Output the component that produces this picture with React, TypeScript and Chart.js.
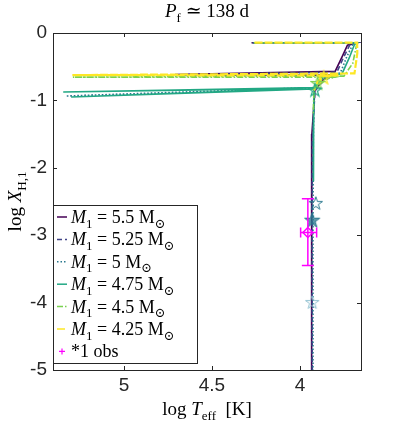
import React, { useEffect, useRef } from "react";
import { Chart, registerables } from "chart.js";
Chart.register(...registerables);

// ---- data ----
const masses = ["5.5", "5.25", "5", "4.75", "4.5", "4.25"];
const colors = ["#440154", "#414487", "#2A788E", "#22A884", "#7AD151", "#FDE725"];
const dashes: number[][] = [[], [5, 3], [1.5, 2], [], [6, 2, 1.5, 2], [8, 2]];

const T55 = [4.275, 3.675, 3.73, 3.76, 3.8, 4.71, 3.82, 3.87, 3.915, 3.932, 3.934, 3.933];
const X55 = [-0.144, -0.144, -0.18, -0.35, -0.57, -0.615, -0.62, -0.7, -0.85, -1.5, -3.0, -5.0];
const T525 = [4.27, 3.675, 3.715, 3.75, 3.79, 4.66, 3.81, 3.87, 3.915, 3.929, 3.931, 3.93];
const X525 = [-0.144, -0.144, -0.17, -0.35, -0.58, -0.62, -0.625, -0.72, -0.86, -1.6, -3.0, -5.0];
const T5 = [4.265, 3.675, 3.7, 3.735, 3.77, 3.86, 3.92, 5.33, 3.92, 3.924, 3.926, 3.926];
const X5 = [-0.144, -0.144, -0.17, -0.36, -0.59, -0.66, -0.81, -0.935, -0.82, -1.6, -3.0, -5.0];
const T475 = [4.262, 3.675, 3.69, 3.72, 3.76, 3.87, 3.915, 5.345, 3.915, 5.3, 3.92, 3.922, 3.923];
const X475 = [-0.144, -0.144, -0.17, -0.37, -0.6, -0.66, -0.81, -0.875, -0.82, -0.95, -0.83, -1.3, -2.2];
const T45 = [4.26, 3.675, 3.68, 3.7, 3.75, 5.29, 3.8, 3.88, 3.92, 3.925];
const X45 = [-0.144, -0.144, -0.2, -0.45, -0.64, -0.655, -0.655, -0.7, -0.85, -1.2];
const T425 = [4.258, 3.675, 3.674, 3.69, 5.293, 3.78, 3.865, 3.9, 3.92];
const X425 = [-0.144, -0.144, -0.3, -0.6, -0.625, -0.63, -0.64, -0.72, -0.85];
const tracksT = [T55, T525, T5, T475, T45, T425];
const tracksX = [X55, X525, X5, X475, X45, X425];

// star markers: [logT, logX]
const starsOpenT = [3.91, 3.93];
const starsOpenX = [-2.52, -3.99];
const starsOpenColor = ["#2A788E", "#8FC0D0"];
const starFilledT = [3.93];
const starFilledX = [-2.77];
const topStarsT = [3.865, 3.9, 3.915];
const topStarsX = [-0.66, -0.74, -0.84];
const topStarsColor = ["#FDE725", "#7AD151", "#22A884"];

// observation
const obsT = 3.955, obsX = -2.96;
const obsTlo = 3.905, obsThi = 3.996;
const obsXlo = -3.45, obsXhi = -2.46;

const xTicks = [5, 4.5, 4];
const yTicks = [0, -1, -2, -3, -4, -5];

// ---- helpers ----
function starCanvas(size: number, fill: string | null, stroke: string, lw = 1) {
  const c = document.createElement("canvas");
  c.width = size; c.height = size;
  const ctx = c.getContext("2d")!;
  const cx = size / 2, cy = size / 2 + size * 0.05;
  const R = size / 2 - lw, r = R * 0.382;
  ctx.beginPath();
  for (let i = 0; i < 10; i++) {
    const rad = i % 2 === 0 ? R : r;
    const a = -Math.PI / 2 + (i * Math.PI) / 5;
    const px = cx + rad * Math.cos(a), py = cy + rad * Math.sin(a);
    if (i === 0) ctx.moveTo(px, py); else ctx.lineTo(px, py);
  }
  ctx.closePath();
  if (fill) { ctx.fillStyle = fill; ctx.fill(); }
  ctx.strokeStyle = stroke; ctx.lineWidth = lw; ctx.stroke();
  return c;
}

type Seg = { t: string; it?: boolean; sub?: boolean };
const SERIF = '"Liberation Serif", "DejaVu Serif", serif';
function drawRich(ctx: CanvasRenderingContext2D, segs: Seg[], x: number, y: number, size: number, align: "left" | "center") {
  const fontFor = (s: Seg) => `${s.it ? "italic " : ""}${s.sub ? Math.round(size * 0.7) : size}px ${SERIF}`;
  let w = 0;
  for (const s of segs) { ctx.font = fontFor(s); w += ctx.measureText(s.t).width; }
  let cx = align === "center" ? x - w / 2 : x;
  ctx.textBaseline = "alphabetic";
  ctx.textAlign = "left";
  for (const s of segs) {
    ctx.font = fontFor(s);
    ctx.fillText(s.t, cx, y + (s.sub ? size * 0.25 : 0));
    cx += ctx.measureText(s.t).width;
  }
}

const AX = "#262626";

const decor = {
  id: "decor",
  afterDatasetsDraw(chart: any) {
    const ctx: CanvasRenderingContext2D = chart.ctx;
    const xs = chart.scales.x, ys = chart.scales.y;
    ctx.save();
    ctx.strokeStyle = "#FF00FF";
    ctx.lineWidth = 1.5;
    const px = xs.getPixelForValue(obsT), py = ys.getPixelForValue(obsX);
    const yl = ys.getPixelForValue(obsXlo), yh = ys.getPixelForValue(obsXhi);
    const xl = xs.getPixelForValue(obsThi), xh = xs.getPixelForValue(obsTlo);
    ctx.beginPath();
    ctx.moveTo(px, yl); ctx.lineTo(px, yh);
    ctx.moveTo(px - 6, yl); ctx.lineTo(px + 6, yl);
    ctx.moveTo(px - 6, yh); ctx.lineTo(px + 6, yh);
    ctx.moveTo(xl, py); ctx.lineTo(xh, py);
    ctx.moveTo(xl, py - 5); ctx.lineTo(xl, py + 5);
    ctx.moveTo(xh, py - 5); ctx.lineTo(xh, py + 5);
    ctx.stroke();
    ctx.restore();
  },
  afterDraw(chart: any) {
    const ctx: CanvasRenderingContext2D = chart.ctx;
    const a = chart.chartArea;
    const xs = chart.scales.x, ys = chart.scales.y;
    ctx.save();
    ctx.strokeStyle = AX;
    ctx.lineWidth = 1;
    ctx.strokeRect(Math.round(a.left) + 0.5, Math.round(a.top) + 0.5, Math.round(a.right - a.left), Math.round(a.bottom - a.top));
    ctx.beginPath();
    for (const v of xTicks) {
      const x = Math.round(xs.getPixelForValue(v)) + 0.5;
      ctx.moveTo(x, a.top); ctx.lineTo(x, a.top + 4);
      ctx.moveTo(x, a.bottom); ctx.lineTo(x, a.bottom - 4);
    }
    for (const v of yTicks) {
      const y = Math.round(ys.getPixelForValue(v)) + 0.5;
      ctx.moveTo(a.left, y); ctx.lineTo(a.left + 4, y);
      ctx.moveTo(a.right, y); ctx.lineTo(a.right - 4, y);
    }
    ctx.stroke();

    ctx.fillStyle = "#000";
    const cxm = (a.left + a.right) / 2;
    drawRich(ctx, [{ t: "P", it: true }, { t: "f", sub: true }, { t: " \u2243 138 d" }], cxm, 17, 19, "center");
    drawRich(ctx, [{ t: "log " }, { t: "T", it: true }, { t: "eff", sub: true }, { t: "  [K]" }], cxm, 415, 19, "center");
    ctx.save();
    ctx.translate(21, (a.top + a.bottom) / 2);
    ctx.rotate(-Math.PI / 2);
    drawRich(ctx, [{ t: "log " }, { t: "X", it: true }, { t: "H,1", sub: true }], 0, 0, 19, "center");
    ctx.restore();

    // legend
    const L = a.left, Tp = 205, R = 197, B = 363;
    ctx.fillStyle = "#fff";
    ctx.fillRect(L, Tp, R - L, B - Tp);
    ctx.strokeStyle = AX;
    ctx.lineWidth = 1;
    ctx.strokeRect(L + 0.5, Tp + 0.5, R - L, B - Tp);
    const rowH = 22.4;
    for (let i = 0; i < masses.length; i++) {
      const cy = Tp + 12 + i * rowH;
      ctx.strokeStyle = colors[i];
      ctx.lineWidth = 1.5;
      ctx.setLineDash(dashes[i]);
      ctx.beginPath(); ctx.moveTo(L + 4, cy); ctx.lineTo(L + 14, cy); ctx.stroke();
      ctx.setLineDash([]);
      ctx.fillStyle = "#000";
      drawRich(ctx, [{ t: "M", it: true }, { t: "1", sub: true }, { t: ` = ${masses[i]} M` }, { t: "\u2299", sub: true }], L + 18, cy + 6, 18, "left");
    }
    const cy = Tp + 12 + 6 * rowH;
    ctx.strokeStyle = "#FF00FF"; ctx.lineWidth = 1.2;
    ctx.beginPath();
    ctx.moveTo(L + 6, cy); ctx.lineTo(L + 12, cy);
    ctx.moveTo(L + 9, cy - 3); ctx.lineTo(L + 9, cy + 3);
    ctx.stroke();
    ctx.fillStyle = "#000";
    drawRich(ctx, [{ t: "*1 obs" }], L + 18, cy + 6, 18, "left");
    ctx.restore();
  },
};

export default function App() {
  const ref = useRef<HTMLCanvasElement>(null);
  useEffect(() => {
    document.body.style.margin = "0";
    const datasets: any[] = [];
    for (let i = 0; i < masses.length; i++) {
      datasets.push({
        label: `M1 = ${masses[i]}`,
        data: tracksT[i].map((t, k) => ({ x: t, y: tracksX[i][k] })),
        showLine: true,
        borderColor: colors[i],
        backgroundColor: colors[i],
        borderWidth: i === 5 ? 2.2 : 1.6,
        borderDash: dashes[i],
        pointRadius: 0,
        tension: 0,
        order: 10 - i,
      });
    }
    datasets.push({
      label: "top stars",
      data: topStarsT.map((t, k) => ({ x: t, y: topStarsX[k] })),
      pointStyle: topStarsColor.map((c) => starCanvas(16, null, c, 1.2)),
      pointRadius: 8,
      showLine: false,
      order: 2,
    });
    datasets.push({
      label: "open stars",
      data: starsOpenT.map((t, k) => ({ x: t, y: starsOpenX[k] })),
      pointStyle: starsOpenColor.map((c) => starCanvas(16, null, c, 1)),
      pointRadius: 8,
      showLine: false,
      order: 1,
    });
    datasets.push({
      label: "filled star",
      data: starFilledT.map((t, k) => ({ x: t, y: starFilledX[k] })),
      pointStyle: starCanvas(18, "rgba(42,120,142,0.75)", "#2A788E", 1),
      pointRadius: 9,
      showLine: false,
      order: 1,
    });
    datasets.push({
      label: "*1 obs",
      data: [{ x: obsT, y: obsX }],
      pointStyle: "rectRot",
      pointRadius: 5,
      borderColor: "#FF00FF",
      backgroundColor: "rgba(0,0,0,0)",
      borderWidth: 1.5,
      showLine: false,
      order: 0,
    });
    const tickFont = { family: '"Liberation Sans", Arial, sans-serif', size: 19 };
    const chart = new Chart(ref.current!, {
      type: "scatter",
      data: { datasets },
      plugins: [decor],
      options: {
        animation: false,
        responsive: false,
        layout: { padding: { top: 33, right: 38, left: 0, bottom: 0 } },
        plugins: { legend: { display: false }, tooltip: { enabled: false } },
        scales: {
          x: {
            type: "linear",
            reverse: true,
            min: 3.653,
            max: 5.403,
            afterBuildTicks: (s: any) => { s.ticks = xTicks.map((v) => ({ value: v })); },
            afterFit: (s: any) => { s.height = 53; },
            ticks: { font: tickFont, color: AX, padding: 4, maxRotation: 0, callback: (v: any) => String(v) },
            grid: { display: false, drawTicks: false },
            border: { display: false },
          },
          y: {
            type: "linear",
            min: -5,
            max: 0,
            afterBuildTicks: (s: any) => { s.ticks = yTicks.map((v) => ({ value: v })); },
            afterFit: (s: any) => { s.width = 53; },
            ticks: { font: tickFont, color: AX, padding: 6, callback: (v: any) => String(v) },
            grid: { display: false, drawTicks: false },
            border: { display: false },
          },
        },
      },
    });
    return () => chart.destroy();
  }, []);
  return <canvas ref={ref} width={399} height={423} style={{ display: "block" }} />;
}
